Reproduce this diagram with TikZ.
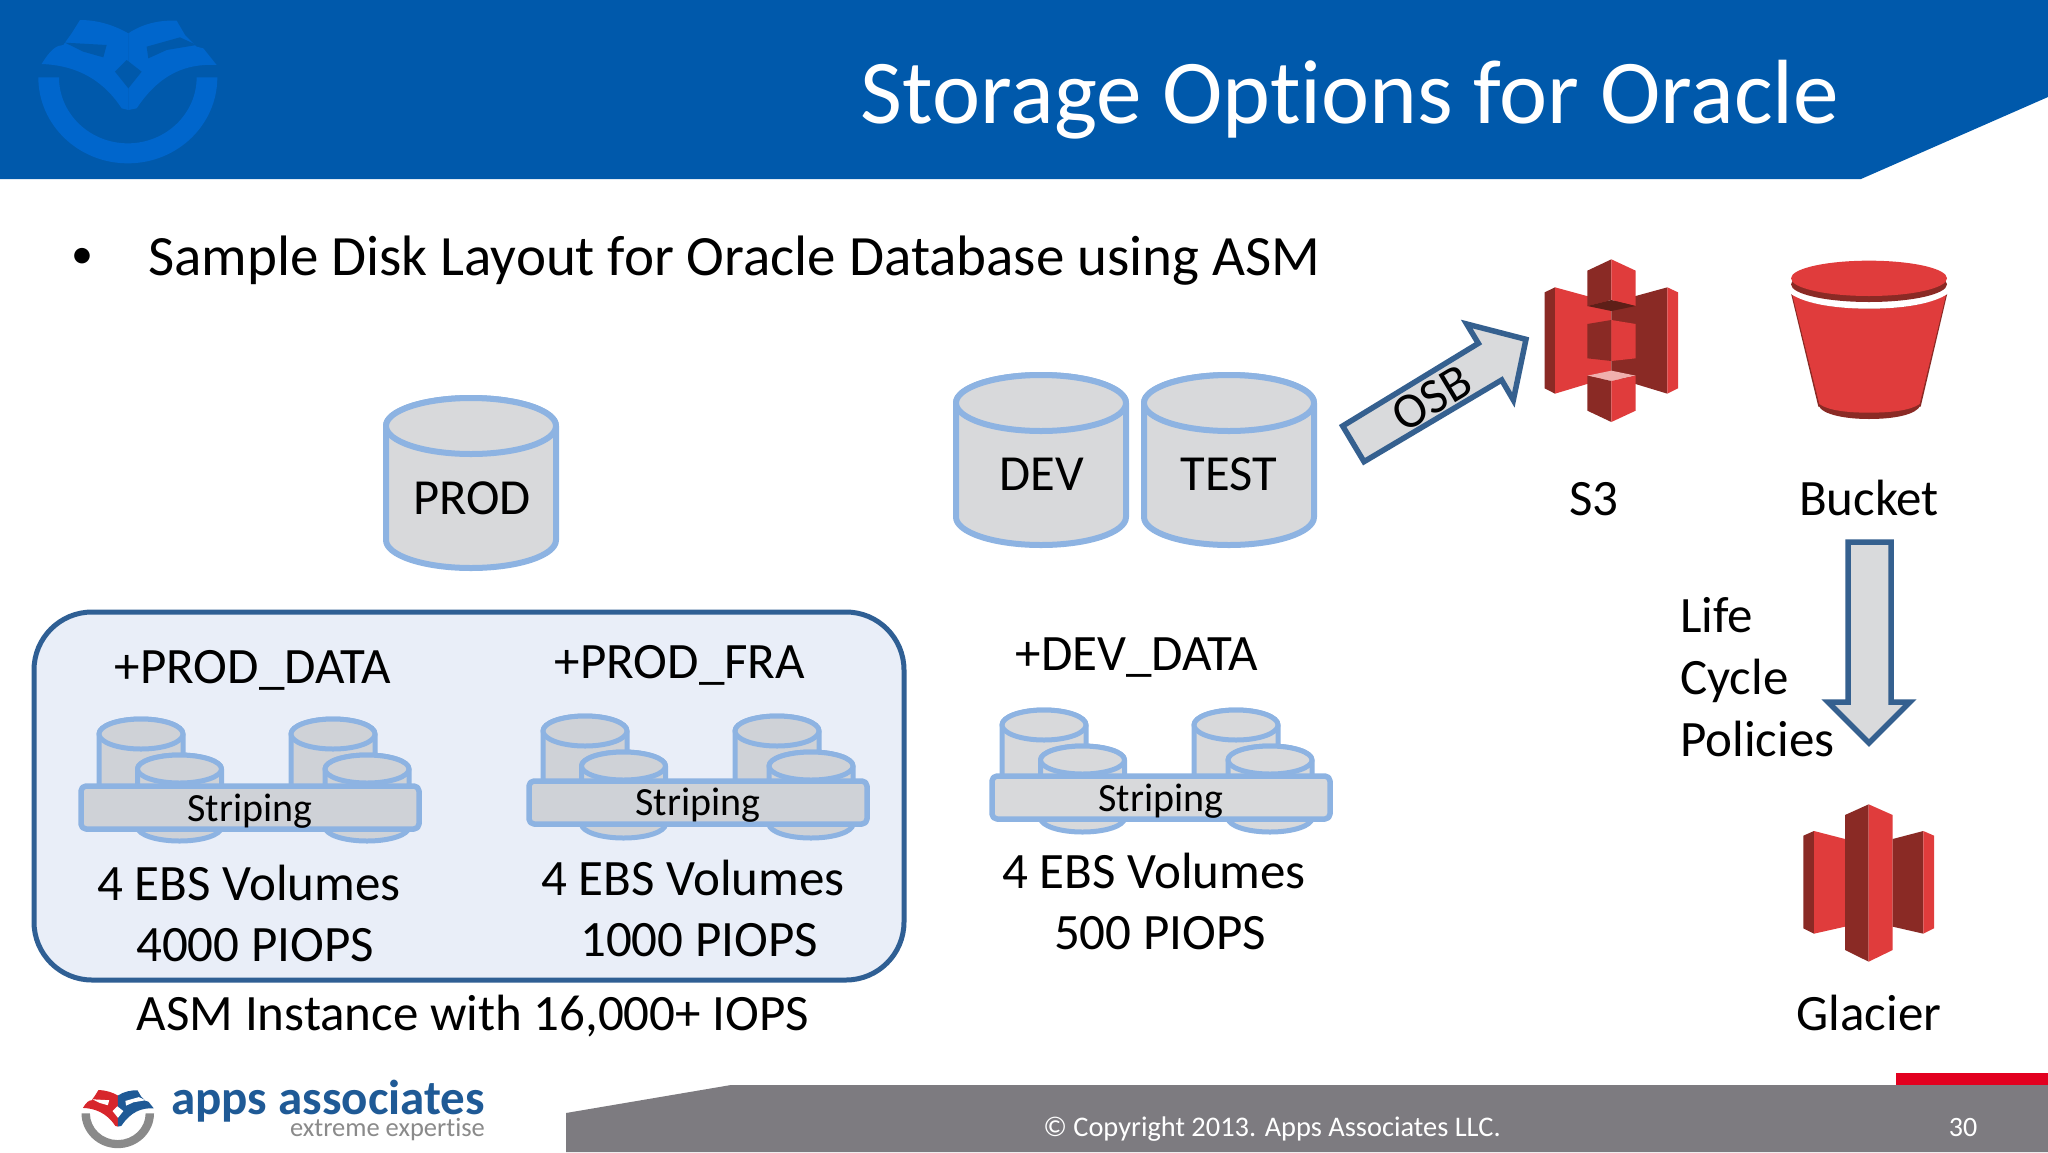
\documentclass[tikz,border=0pt]{standalone}
\usepackage{fontspec}
\setmainfont[Ligatures=NoCommon]{Carlito}
\definecolor{hdr}{HTML}{0059AB}
\definecolor{wm}{HTML}{0066CC}
\definecolor{cyledge}{HTML}{8DB3E2}
\definecolor{cylfill}{HTML}{D8D9DB}
\definecolor{cylsmall}{HTML}{CFD2D7}
\definecolor{cylplain}{HTML}{D8D9DB}
\definecolor{boxedge}{HTML}{2F5F94}
\definecolor{boxfill}{HTML}{E9EEF8}
\definecolor{arredge}{HTML}{35608F}
\definecolor{arrfill}{HTML}{D9DADC}
\definecolor{awsred}{HTML}{E03C3C}
\definecolor{awsdark}{HTML}{8A2A25}
\definecolor{awsdeep}{HTML}{5E1F18}
\definecolor{awslight}{HTML}{F0B0AE}
\definecolor{foot}{HTML}{7D7B80}
\definecolor{barred}{HTML}{E2001F}
\definecolor{logored}{HTML}{D7262C}
\definecolor{logoblue}{HTML}{1F5A96}
\definecolor{logogrey}{HTML}{8A8A8A}
\tikzset{
  cyl/.style={draw=cyledge,fill=cylfill,line width=#1,line join=round},
  lbl/.style={text=black,inner sep=0pt,font=\fontsize{#1}{#1}\selectfont,anchor=center},
  blockarrow/.style={draw=arredge,fill=arrfill,line width=5.5pt,line join=miter},
  red/.style={fill=awsred},
  dark/.style={fill=awsdark}
}
% centre x, top y, half width, half ellipse height, total height, line width
\newcommand{\mycyl}[6]{%
  \path[cyl=#6] (#1-#3,#2+#4) -- (#1-#3,#2+#5-#4) arc[start angle=180,end angle=360,x radius=#3,y radius=-#4] -- (#1+#3,#2+#4) arc[start angle=0,end angle=180,x radius=#3,y radius=-#4] -- cycle;
  \path[cyl=#6] (#1,#2+#4) ellipse[x radius=#3,y radius=#4];
}
% cylinder offset x,y; bar offset x,y; fill colour
\newcommand{\mystripes}[5]{%
  \begin{scope}
  \colorlet{cylfill}{#5}%
  \begin{scope}[shift={(#1,#2)}]
    \mycyl{141}{719}{42}{15}{98}{5pt}
    \mycyl{333}{719}{42}{15}{98}{5pt}
    \mycyl{179.5}{755}{42}{14}{86}{5pt}
    \mycyl{367}{755}{42}{14}{86}{5pt}
  \end{scope}
  \begin{scope}[shift={(#3,#4)}]
    \path[cyl=5.5pt,rounded corners=5pt] (81,786) rectangle (419,829);
  \end{scope}
  \end{scope}
}
% shift x,y; scale; ring colour; left colour; right colour; hole colour
\newcommand{\logomark}[7]{%
  \begin{scope}[shift={(#1,#2)},scale=#3]
    \fill[#4] (115,232) arc[start angle=180,end angle=360,x radius=268.5,y radius=-258] -- (590,232) arc[start angle=0,end angle=-180,x radius=206.5,y radius=-198] -- cycle;
    \fill[#5] (125,192) .. controls (150,150) and (170,135) .. (190,135) -- (215,100) -- (240,60) .. controls (300,60) and (350,80) .. (385,100) -- (385,330) -- (365,325) .. controls (300,225) and (210,195) .. (125,192) -- cycle;
    \fill[#6] (385,100) .. controls (430,70) and (480,60) .. (530,62) -- (555,105) -- (590,140) -- (610,145) -- (650,195) .. controls (560,190) and (480,220) .. (410,325) -- (385,330) -- cycle;
    \fill[#7] (195,128) -- (320,135) -- (310,172) -- (250,155) -- cycle;
    \fill[#7] (440,140) -- (540,112) -- (590,135) -- (500,150) -- (445,175) -- cycle;
    \fill[#7] (380,180) -- (345,215) -- (385,265) -- (425,215) -- cycle;
  \end{scope}
}
\begin{document}
\begin{tikzpicture}[x=1pt,y=-1pt]
\useasboundingbox (0,0) rectangle (2048,1152);
\fill[white] (0,0) rectangle (2048,1152);
% header
\fill[hdr] (0,0) -- (2048,0) -- (2048,97) -- (1861,179) -- (0,179) -- cycle;
% watermark logo
\logomark{0}{0}{1/3}{wm}{wm}{wm}{hdr}
% title
\node[lbl=91.2,text=white] (title) at (1350,100) {Storage Options for Oracle};
% bullet
\node[lbl=44] (bullet) at (82,258) {•};
\node[lbl=57,anchor=west] (sample) at (148,261) {Sample Disk Layout for Oracle Database using ASM};
% big cylinders
\mycyl{471}{398}{85}{28}{170}{6pt}
\mycyl{1041}{375}{85}{28}{170}{6pt}
\mycyl{1229}{375}{85}{28}{170}{6pt}
\node[lbl=50.5] (prod) at (472,498) {PROD};
\node[lbl=50.5] (dev) at (1042,474) {DEV};
\node[lbl=50.5] (test) at (1229,474) {TEST};
% group box
\path[draw=boxedge,fill=boxfill,line width=5pt,rounded corners=58pt] (34,612) rectangle (904,980);
\mystripes{0}{0}{0}{0}{cylsmall}
\mystripes{444}{-3}{448}{-5}{cylsmall}
\mystripes{903}{-9}{911}{-10}{cylplain}
\node[lbl=51] (pd) at (253,670) {+PROD\_DATA};
\node[lbl=51] (pf) at (680,665) {+PROD\_FRA};
\node[lbl=51] (dd) at (1137,658) {+DEV\_DATA};
\node[lbl=40] (s1) at (250,811) {Striping};
\node[lbl=40] (s2) at (698,805) {Striping};
\node[lbl=40] (s3) at (1161,801) {Striping};
\node[lbl=51] (e1) at (249,883) {4 EBS Volumes};
\node[lbl=51] (p1) at (255,945) {4000 PIOPS};
\node[lbl=51] (e2) at (693,878) {4 EBS Volumes};
\node[lbl=51] (p2) at (699,940) {1000 PIOPS};
\node[lbl=51] (e3) at (1154,871) {4 EBS Volumes};
\node[lbl=51] (p3) at (1160,933) {500 PIOPS};
\node[lbl=51] (asm) at (473,1016) {ASM Instance with 16,000+ IOPS};
% OSB arrow
\begin{scope}[shift={(1300,300)},scale=1/3]
  \path[blockarrow] (128,378) -- (192,485) -- (605,240) -- (640,300) -- (678,118) -- (500,72) -- (535,130) -- cycle;
\end{scope}
\node[lbl=50,rotate=31] (osb) at (1432,398) {OSB};
% S3 icon
\begin{scope}[shift={(1500,230)},scale=1/3]
  \fill[dark] (134,187) -- (165,172) -- (165,491) -- (134,475) -- cycle;
  \fill[red] (165,172) -- (334,218) -- (334,440) -- (165,491) -- cycle;
  \fill[dark] (502,172) -- (334,218) -- (334,440) -- (502,491) -- cycle;
  \fill[red] (502,172) -- (534,187) -- (534,475) -- (502,491) -- cycle;
  \fill[dark] (262,122) -- (334,88) -- (334,210) -- (262,228) -- cycle;
  \fill[red] (334,88) -- (407,122) -- (407,228) -- (334,210) -- cycle;
  \fill[awsdeep] (262,228) -- (334,210) -- (407,228) -- (334,243) -- cycle;
  \fill[dark] (262,282) -- (334,270) -- (334,393) -- (262,385) -- cycle;
  \fill[red] (334,270) -- (407,282) -- (407,385) -- (334,393) -- cycle;
  \fill[awslight] (262,437) -- (334,422) -- (407,437) -- (334,453) -- cycle;
  \fill[dark] (262,437) -- (334,453) -- (334,576) -- (262,542) -- cycle;
  \fill[red] (334,453) -- (407,437) -- (407,542) -- (334,576) -- cycle;
  % bucket
  \fill[dark] (955,525) .. controls (965,555) and (1040,567) .. (1107,567) .. controls (1180,567) and (1250,555) .. (1262,525) -- cycle;
  \fill[dark] (873,190) -- (955,530) -- (1262,530) -- (1342,190) -- cycle;
  \fill[red] (876,190) .. controls (920,225) and (1020,236) .. (1107,236) .. controls (1195,236) and (1295,225) .. (1339,190) -- (1259,522) .. controls (1230,542) and (1170,548) .. (1107,548) .. controls (1045,548) and (985,542) .. (958,522) -- cycle;
  \fill[white] (870,172) -- (870,190) .. controls (920,225) and (1020,236) .. (1107,236) .. controls (1195,236) and (1295,225) .. (1345,190) -- (1345,172) -- cycle;
  \fill[dark] (1107,163) ellipse[x radius=234,y radius=53];
  \fill[red] (1107,145) ellipse[x radius=234,y radius=53];
\end{scope}
% Glacier icon
\begin{scope}[shift={(1750,780)},scale=1/3]
  \fill[dark] (160,167) -- (192,153) -- (192,461) -- (160,445) -- cycle;
  \fill[red] (192,153) -- (285,177) -- (285,440) -- (192,461) -- cycle;
  \fill[dark] (285,105) -- (356,73) -- (356,545) -- (285,510) -- cycle;
  \fill[red] (356,73) -- (428,105) -- (428,510) -- (356,545) -- cycle;
  \fill[dark] (428,177) -- (520,153) -- (520,461) -- (428,440) -- cycle;
  \fill[red] (520,153) -- (552,167) -- (552,445) -- (520,461) -- cycle;
\end{scope}
\node[lbl=51] (s3lbl) at (1594,499) {S3};
\node[lbl=51] (bucket) at (1869,498) {Bucket};
\node[lbl=51] (glacier) at (1869,1013) {Glacier};
\node[lbl=51,anchor=west] (life) at (1680,615) {Life};
\node[lbl=51,anchor=west] (cycle) at (1680,681) {Cycle};
\node[lbl=51,anchor=west] (pol) at (1680,739) {Policies};
% down arrow
\path[blockarrow] (1848,542) -- (1891,542) -- (1891,702) -- (1910,702) -- (1869,743) -- (1828,702) -- (1848,702) -- cycle;
% footer
\fill[foot] (566,1152) -- (566,1113) -- (731,1085) -- (2048,1085) -- (2048,1152) -- cycle;
\fill[barred] (1896,1073) rectangle (2048,1085);
\node[lbl=28.4,text=white] (copy) at (1272,1129) {© Copyright 2013. Apps Associates LLC.};
\node[lbl=28,text=white] (pg) at (1963,1127) {30};
% footer logo
\logomark{66}{1082}{0.135}{logogrey}{logored}{logoblue}{white}
\node[inner sep=0pt,anchor=east,text=logoblue,font=\fontsize{49}{49}\selectfont\bfseries] (apps) at (485,1101) {apps associates};
\node[inner sep=0pt,anchor=east,text=logogrey,font=\fontsize{26.5}{26.5}\selectfont] (extreme) at (485,1130) {extreme expertise};
\end{tikzpicture}
\end{document}
